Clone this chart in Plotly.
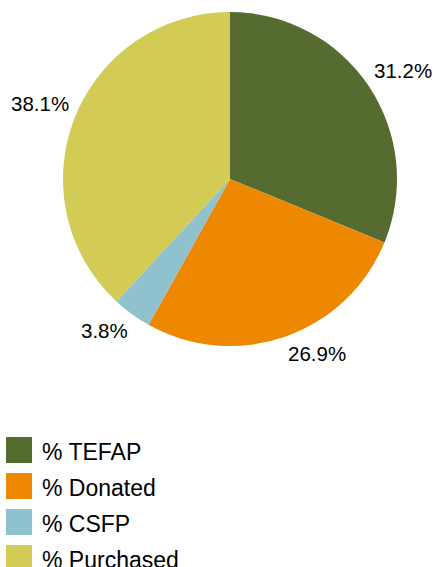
import math
import plotly.graph_objects as go

labels = ["% TEFAP", "% Donated", "% CSFP", "% Purchased"]
values = [31.2, 26.9, 3.8, 38.1]
colors = ["#556B2F", "#EE8800", "#8FC1CE", "#D2CB55"]

W, H = 434, 567
cx, cy, r = 230, 179, 167
FONT = "Liberation Sans, Arial, sans-serif"

fig = go.Figure()
fig.add_trace(go.Pie(
    labels=labels, values=values, sort=False, direction="clockwise", rotation=0,
    marker=dict(colors=colors, line=dict(width=0)),
    textinfo="none", showlegend=False, hoverinfo="label+value",
    domain=dict(x=[(cx - r) / W, (cx + r) / W], y=[1 - (cy + r) / H, 1 - (cy - r) / H]),
))

# outside data labels, anchored at the slice mid-angle just beyond the rim
total = sum(values)
cum = 0.0
gap = 5
for v in values:
    mid = (cum + v / 2) / total * 2 * math.pi
    cum += v
    ux, uy = math.sin(mid), -math.cos(mid)
    px, py = cx + (r + gap) * ux, cy + (r + gap) * uy
    fig.add_annotation(
        xref="paper", yref="paper", x=px / W, y=1 - py / H,
        text=f"{v:.1f}%", showarrow=False,
        xanchor="left" if ux > 0 else "right",
        yanchor="bottom" if uy < 0 else "top",
        borderpad=0,
        font=dict(family=FONT, size=20.5, color="#000000"),
    )

# legend with large square swatches
top, step, sq = 437, 36, 26
for i, (lab, col) in enumerate(zip(labels, colors)):
    y0 = top + i * step
    fig.add_shape(type="rect", xref="paper", yref="paper",
                  x0=6 / W, x1=(6 + sq) / W, y0=1 - (y0 + sq) / H, y1=1 - y0 / H,
                  fillcolor=col, line=dict(width=0))
    fig.add_annotation(xref="paper", yref="paper", x=40 / W, y=1 - (y0 + sq / 2 + 1.5) / H,
                       text=lab, showarrow=False, xanchor="left", yanchor="middle",
                       font=dict(family=FONT, size=23, color="#000000"))

fig.update_layout(
    width=W, height=H, margin=dict(l=0, r=0, t=0, b=0),
    paper_bgcolor="white", plot_bgcolor="white",
)
fig.write_html("out.html", config={"displayModeBar": False},
               post_script="document.body.style.margin='0';")
